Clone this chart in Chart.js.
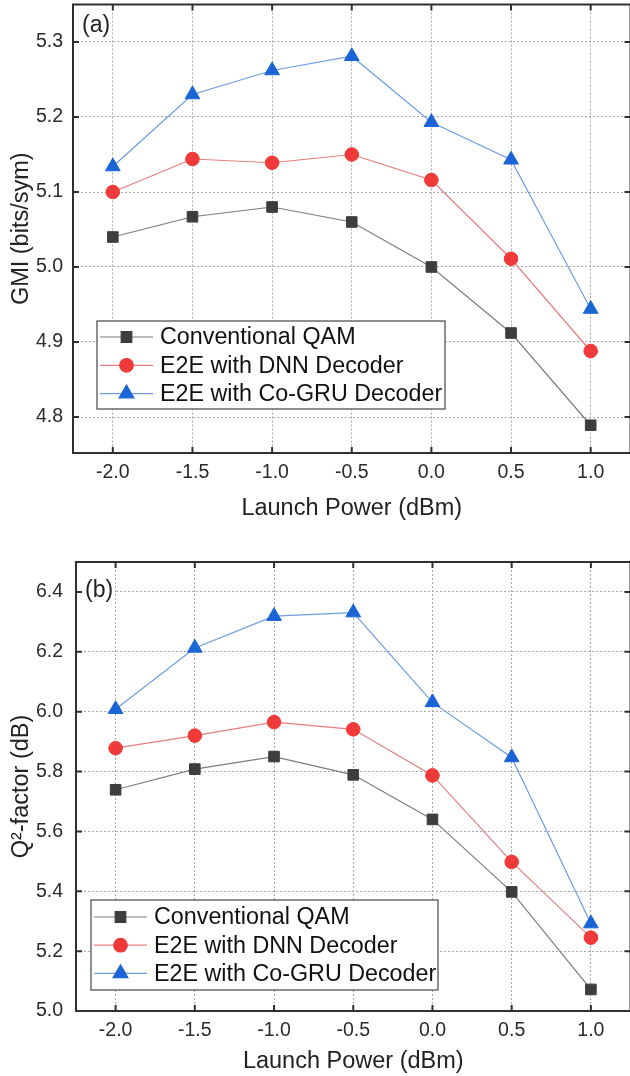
<!DOCTYPE html>
<html>
<head>
<meta charset="utf-8">
<script src="https://cdn.jsdelivr.net/npm/chart.js@4.4.0/dist/chart.umd.min.js"></script>
<style>
  html, body { margin: 0; padding: 0; background: #fff; width: 630px; height: 1076px; overflow: hidden; }
  .painel { position: absolute; left: 0; }
  #painelA { top: -5px; }
  #painelB { top: 548px; }
</style>
</head>
<body>
<div class="painel" id="painelA"><canvas id="graficoA" width="640" height="535"></canvas></div>
<div class="painel" id="painelB"><canvas id="graficoB" width="640" height="528"></canvas></div>
<script>
const potencia = [-2.0, -1.5, -1.0, -0.5, 0.0, 0.5, 1.0];
const rotulos = ['Conventional QAM', 'E2E with DNN Decoder', 'E2E with Co-GRU Decoder'];

// (a) GMI
const gmiQam = [5.040, 5.067, 5.080, 5.060, 5.000, 4.912, 4.789];
const gmiDnn = [5.100, 5.144, 5.139, 5.150, 5.116, 5.011, 4.888];
const gmiGru = [5.134, 5.230, 5.262, 5.281, 5.193, 5.143, 4.944];
const gmiTicks = [4.8, 4.9, 5.0, 5.1, 5.2, 5.3];

// (b) Q2-factor
const qQam = [5.739, 5.808, 5.850, 5.789, 5.640, 5.398, 5.072];
const qDnn = [5.878, 5.920, 5.965, 5.941, 5.787, 5.498, 5.245];
const qGru = [6.008, 6.213, 6.319, 6.331, 6.031, 5.847, 5.292];
const qTicks = [5.0, 5.2, 5.4, 5.6, 5.8, 6.0, 6.2, 6.4];

const FONTE = "'Liberation Sans', Arial, sans-serif";

const estilos = [
    { marcador: '#3d3d3d', linha: '#7d7d7d', forma: 'rect', raio: 7.5 },
    { marcador: '#f03a3a', linha: '#e67e7e', forma: 'circle', raio: 6.8 },
    { marcador: '#1a64d6', linha: '#6f9de0', forma: 'triangle', raio: 8.5 }
];

// moldura do grafico com ticks para dentro nos quatro lados
const moldura = {
    id: 'moldura',
    afterDraw(chart, args, opts) {
        const ctx = chart.ctx;
        const a = chart.chartArea;
        const sx = chart.scales.x, sy = chart.scales.y;
        const tam = 6;
        ctx.save();
        ctx.strokeStyle = '#303030';
        ctx.lineWidth = 2;
        ctx.beginPath();
        sx.ticks.forEach(t => {
            const px = sx.getPixelForValue(t.value);
            ctx.moveTo(px, a.bottom); ctx.lineTo(px, a.bottom - tam);
            ctx.moveTo(px, a.top); ctx.lineTo(px, a.top + tam);
        });
        sy.ticks.forEach(t => {
            const py = sy.getPixelForValue(t.value);
            ctx.moveTo(a.left, py); ctx.lineTo(a.left + tam, py);
            ctx.moveTo(a.right, py); ctx.lineTo(a.right - tam, py);
        });
        ctx.stroke();
        ctx.strokeRect(a.left, a.top, a.right - a.left, a.bottom - a.top);

        // letra do painel
        ctx.font = '23px ' + FONTE;
        ctx.textBaseline = 'middle';
        ctx.textAlign = 'left';
        const w = ctx.measureText(opts.letra).width;
        ctx.fillStyle = '#fff';
        ctx.fillRect(a.left + opts.letraX - 1, a.top + opts.letraY - 12, w + 3, 24);
        ctx.fillStyle = '#222';
        ctx.fillText(opts.letra, a.left + opts.letraX, a.top + opts.letraY);
        ctx.restore();
    }
};

// legenda em caixa, com linha e marcador de cada serie
const legendaCaixa = {
    id: 'legendaCaixa',
    afterDraw(chart, args, o) {
        const ctx = chart.ctx;
        ctx.save();
        ctx.fillStyle = '#fff';
        ctx.fillRect(o.x, o.y, o.w, o.h);
        ctx.strokeStyle = '#444';
        ctx.lineWidth = 1.2;
        ctx.strokeRect(o.x, o.y, o.w, o.h);
        ctx.font = '23.3px ' + FONTE;
        ctx.textBaseline = 'middle';
        chart.data.datasets.forEach((ds, i) => {
            const yy = o.y + o.primeira + i * o.passo;
            const x0 = o.x + 3;
            ctx.strokeStyle = ds.borderColor;
            ctx.lineWidth = 1.2;
            ctx.beginPath();
            ctx.moveTo(x0, yy); ctx.lineTo(x0 + o.linha, yy);
            ctx.stroke();
            ctx.fillStyle = ds.pointBackgroundColor;
            ctx.strokeStyle = ds.pointBorderColor;
            Chart.helpers.drawPoint(ctx, { pointStyle: ds.pointStyle, radius: ds.pointRadius, rotation: 0, borderWidth: 1 }, x0 + o.linha / 2, yy);
            ctx.fillStyle = '#111';
            ctx.fillText(ds.label, x0 + o.linha + o.espaco, yy + 1);
        });
        ctx.restore();
    }
};

function montarSeries(valores) {
    return valores.map((serie, i) => ({
        label: rotulos[i],
        data: potencia.map((p, k) => ({ x: p, y: serie[k] })),
        borderColor: estilos[i].linha,
        borderWidth: 1.2,
        pointStyle: estilos[i].forma,
        pointRadius: estilos[i].raio,
        pointHoverRadius: estilos[i].raio,
        pointBackgroundColor: estilos[i].marcador,
        pointBorderColor: estilos[i].marcador,
        pointBorderWidth: 1,
        tension: 0,
        fill: false
    }));
}

function criarGrafico(id, valores, cfg) {
    return new Chart(document.getElementById(id), {
        type: 'line',
        data: { datasets: montarSeries(valores) },
        options: {
            responsive: false,
            animation: false,
            events: [],
            layout: { padding: cfg.padding },
            plugins: {
                legend: { display: false },
                tooltip: { enabled: false },
                moldura: { letra: cfg.letra, letraX: 9, letraY: cfg.letraY },
                legendaCaixa: cfg.legenda
            },
            scales: {
                x: {
                    type: 'linear',
                    min: -2.25,
                    max: 1.25,
                    afterBuildTicks: s => { s.ticks = potencia.map(v => ({ value: v })); },
                    afterFit: s => { s.height = cfg.alturaX; s.paddingLeft = 0; s.paddingRight = 0; },
                    grid: { color: '#a8a8a8', lineWidth: 1, drawTicks: false },
                    border: { display: false, dash: [2, 2] },
                    ticks: {
                        padding: 8,
                        color: '#2a2a2a',
                        font: { family: FONTE, size: 19.5 },
                        callback: v => v.toFixed(1)
                    },
                    title: {
                        display: true,
                        text: 'Launch Power (dBm)',
                        color: '#222',
                        font: { family: FONTE, size: 23.5 },
                        padding: { top: 0, bottom: cfg.tituloXBaixo }
                    }
                },
                y: {
                    type: 'linear',
                    min: cfg.yMin,
                    max: cfg.yMax,
                    afterBuildTicks: s => { s.ticks = cfg.yTicks.map(v => ({ value: v })); },
                    afterFit: s => { s.width = cfg.larguraY; s.paddingTop = 0; s.paddingBottom = 0; },
                    grid: { color: '#a8a8a8', lineWidth: 1, drawTicks: false },
                    border: { display: false, dash: [2, 2] },
                    ticks: {
                        padding: cfg.padY,
                        color: '#2a2a2a',
                        font: { family: FONTE, size: 19.5 },
                        callback: v => v.toFixed(1)
                    },
                    title: {
                        display: true,
                        text: cfg.tituloY,
                        color: '#222',
                        font: { family: FONTE, size: 23.5 },
                        padding: { top: 7, bottom: 0 }
                    }
                }
            }
        },
        plugins: [moldura, legendaCaixa]
    });
}

criarGrafico('graficoA', [gmiQam, gmiDnn, gmiGru], {
    padding: { top: 4, right: 8, left: 0, bottom: 0 },
    alturaX: 77,
    larguraY: 73,
    padY: 10,
    tituloXBaixo: 7,
    yMin: 4.752,
    yMax: 5.35,
    yTicks: gmiTicks,
    tituloY: 'GMI (bits/sym)',
    letra: '(a)',
    letraY: 21,
    legenda: { x: 97, y: 326, w: 348, h: 88, primeira: 16, passo: 28.3, linha: 53, espaco: 7 }
});

criarGrafico('graficoB', [qQam, qDnn, qGru], {
    padding: { top: 14, right: 6, left: 0, bottom: 0 },
    alturaX: 65,
    larguraY: 76,
    padY: 13,
    tituloXBaixo: 0,
    yMin: 5.0,
    yMax: 6.5,
    yTicks: qTicks,
    tituloY: 'Q\u00B2-factor (dB)',
    letra: '(b)',
    letraY: 29,
    legenda: { x: 91, y: 900 - 548, w: 347, h: 90, primeira: 17, passo: 28.2, linha: 53, espaco: 7 }
});
</script>
</body>
</html>
